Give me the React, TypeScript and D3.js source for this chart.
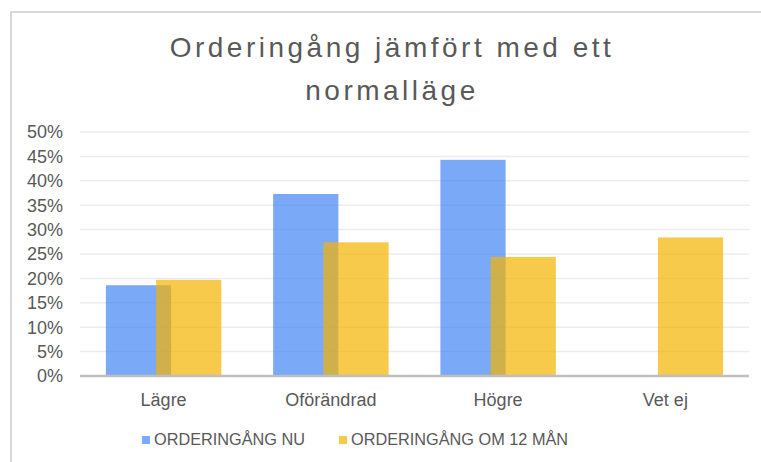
import React from 'react';
import * as d3 from 'd3';

const categories = ['Lägre', 'Oförändrad', 'Högre', 'Vet ej'];
const seriesNames = ['ORDERINGÅNG NU', 'ORDERINGÅNG OM 12 MÅN'];
const nuValues = [0.186, 0.373, 0.443, 0];
const om12Values = [0.197, 0.274, 0.244, 0.284];
const yTicks = [0, 0.05, 0.1, 0.15, 0.2, 0.25, 0.3, 0.35, 0.4, 0.45, 0.5];
const titleLines = ['Orderingång jämfört med ett', 'normalläge'];
const colors = ['#4285F4', '#F4B400'];

const W = 761;
const H = 462;
const font = '"Liberation Sans", Arial, sans-serif';

const App: React.FC = () => {
  const plot = { left: 80, right: 749, top: 132, bottom: 376 };

  const x = d3.scaleBand<string>().domain(categories).range([plot.left, plot.right]).padding(0);
  const y = d3.scaleLinear().domain([0, 0.5]).range([plot.bottom, plot.top]);

  const step = x.bandwidth();
  const barW = step * 0.39;
  const shift = barW * 0.77; // overlapping bars
  const groupW = barW + shift;

  const series = [nuValues, om12Values];

  return (
    <svg width={W} height={H} style={{ position: 'absolute', left: 0, top: 0 }} fontFamily={font}>
      <rect x={0} y={0} width={W} height={H} fill="#fff" />
      {/* chart frame */}
      <path d={`M11,${H + 5} V12 H${W + 5}`} fill="none" stroke="#d9d9d9" strokeWidth={2} />

      {titleLines.map((t, i) => (
        <text key={t} x={392} y={57 + i * 43} textAnchor="middle" fontSize={28} letterSpacing={3.5} fill="#595959">
          {t}
        </text>
      ))}

      {/* gridlines */}
      {yTicks.slice(1).map(t => (
        <line key={t} x1={plot.left} x2={plot.right} y1={y(t)} y2={y(t)} stroke="#ececec" strokeWidth={1.5} />
      ))}

      {/* y tick labels */}
      {yTicks.map(t => (
        <text key={'l' + t} x={63} y={y(t)} dy="0.35em" textAnchor="end" fontSize={18} fill="#595959">
          {`${Math.round(t * 100)}%`}
        </text>
      ))}

      {/* bars */}
      {series.map((vals, si) => (
        <g key={si} fill={colors[si]} fillOpacity={0.7}>
          {vals.map((v, i) =>
            v > 0 ? (
              <rect
                key={i}
                x={x(categories[i])! + step / 2 - groupW / 2 + si * shift}
                y={y(v)}
                width={barW}
                height={y(0) - y(v)}
              />
            ) : null
          )}
        </g>
      ))}

      {/* x axis */}
      <line x1={plot.left} x2={plot.right} y1={y(0)} y2={y(0)} stroke="#bfbfbf" strokeWidth={2.5} />
      {categories.map(c => (
        <text key={c} x={x(c)! + step / 2} y={406} textAnchor="middle" fontSize={18} fill="#595959">
          {c}
        </text>
      ))}

      {/* legend */}
      <rect x={142} y={436} width={8} height={8} fill={colors[0]} fillOpacity={0.7} />
      <text x={154} y={445} fontSize={16.3} fill="#595959">{seriesNames[0]}</text>
      <rect x={339} y={436} width={8} height={8} fill={colors[1]} fillOpacity={0.7} />
      <text x={351} y={445} fontSize={16.3} fill="#595959">{seriesNames[1]}</text>
    </svg>
  );
};

export default App;
